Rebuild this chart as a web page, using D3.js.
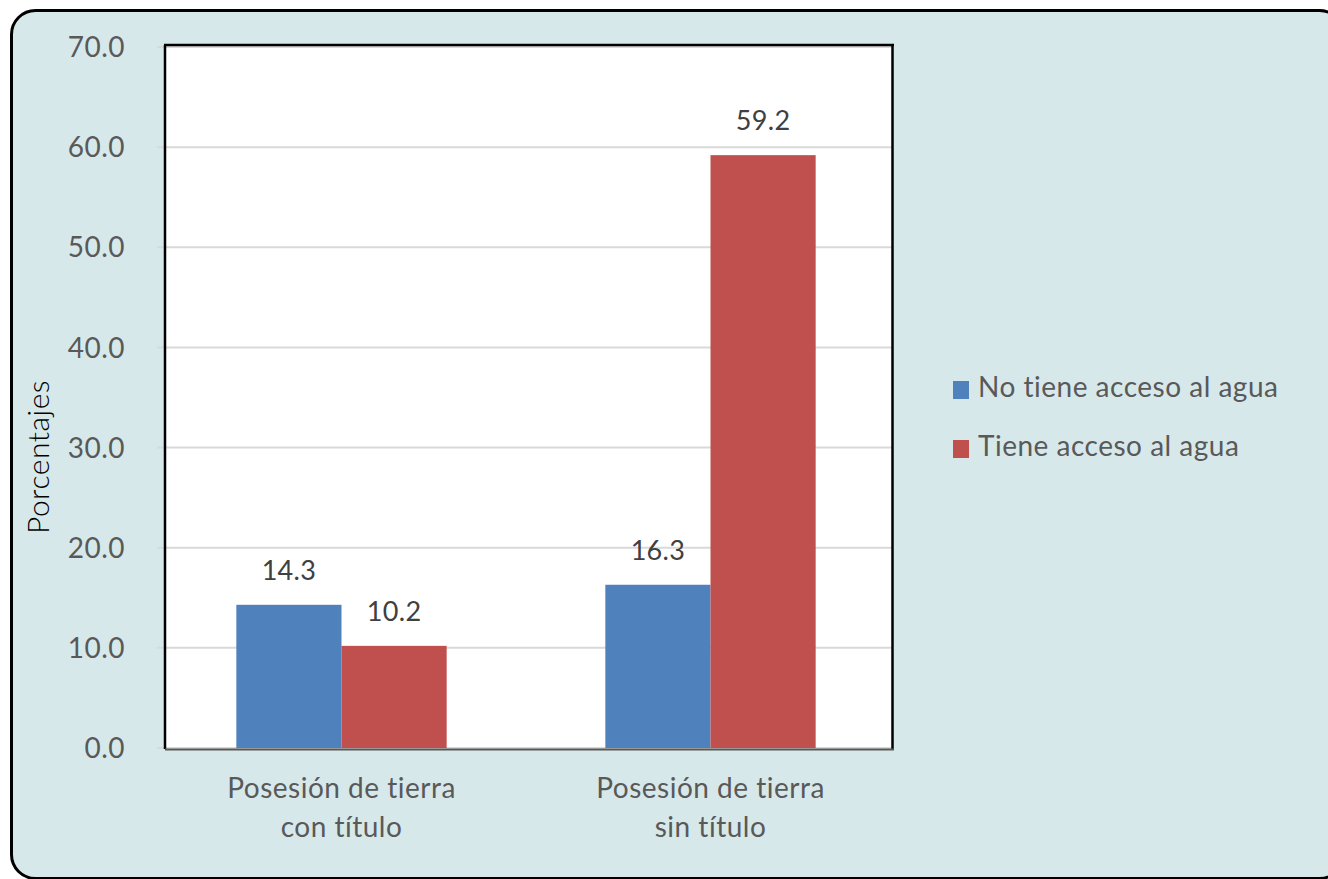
<!DOCTYPE html>
<html>
<head>
<meta charset="utf-8">
<script src="https://cdn.jsdelivr.net/npm/d3@7"></script>
<style>
  html, body { margin: 0; padding: 0; background: #ffffff; }
  svg { display: block; }
  text { font-family: Lato, "Open Sans", sans-serif; }
</style>
</head>
<body>
<svg id="chart" width="1328" height="879"></svg>
<script>
const categories = [["Posesión de tierra", "con título"], ["Posesión de tierra", "sin título"]];
const seriesNames = ["No tiene acceso al agua", "Tiene acceso al agua"];
const noAcceso = [14.3, 16.3];
const conAcceso = [10.2, 59.2];
const yTicks = [0, 10, 20, 30, 40, 50, 60, 70];
const colors = ["#4f81bd", "#c0504d"];

const svg = d3.select("#chart");

// outer rounded panel
svg.append("rect")
  .attr("x", 11.5).attr("y", 10.5)
  .attr("width", 1332).attr("height", 868)
  .attr("rx", 24).attr("ry", 24)
  .attr("fill", "#d7e8eb")
  .attr("stroke", "#000").attr("stroke-width", 3);

const plot = { left: 165, right: 892, top: 46, bottom: 748 };

// plot area background
svg.append("rect")
  .attr("x", plot.left).attr("y", plot.top)
  .attr("width", plot.right - plot.left).attr("height", plot.bottom - plot.top)
  .attr("fill", "#ffffff");

const y = d3.scaleLinear().domain([0, 70]).range([748, 47]);
const catKeys = categories.map(c => c.join(" "));
const x0 = d3.scaleBand().domain(catKeys).range([157, 895]).paddingInner(0.43).paddingOuter(0.215);
const x1 = d3.scaleBand().domain(seriesNames).range([0, x0.bandwidth()]);

// gridlines (with small tick stubs to the left)
svg.append("g").selectAll("line").data(yTicks).join("line")
  .attr("x1", 157).attr("x2", plot.right)
  .attr("y1", d => y(d)).attr("y2", d => y(d))
  .attr("stroke", "#d9d9d9").attr("stroke-width", 2);

// y tick labels
svg.append("g").selectAll("text").data(yTicks).join("text")
  .attr("x", 125).attr("y", d => y(d))
  .attr("dy", "0.36em")
  .attr("text-anchor", "end")
  .attr("font-size", 28)
  .attr("letter-spacing", 0.5)
  .attr("fill", "#595959")
  .text(d => d.toFixed(1));

// bars
const data = categories.map((c, i) => ({ key: catKeys[i], vals: [noAcceso[i], conAcceso[i]] }));
const groups = svg.append("g").selectAll("g").data(data).join("g")
  .attr("transform", d => `translate(${x0(d.key)},0)`);

groups.selectAll("rect").data(d => d.vals.map((v, j) => ({ v, s: seriesNames[j], j })))
  .join("rect")
  .attr("x", d => x1(d.s)).attr("width", x1.bandwidth())
  .attr("y", d => y(d.v)).attr("height", d => y(0) - y(d.v))
  .attr("fill", d => colors[d.j]);

groups.selectAll("text.lbl").data(d => d.vals.map((v, j) => ({ v, s: seriesNames[j], j })))
  .join("text").attr("class", "lbl")
  .attr("x", d => x1(d.s) + x1.bandwidth() / 2)
  .attr("y", d => y(d.v) - 25)
  .attr("text-anchor", "middle")
  .attr("font-size", 27)
  .attr("letter-spacing", 0.3)
  .attr("fill", "#404040")
  .text(d => d.v.toFixed(1));

// frame lines
svg.append("line").attr("x1", 165).attr("x2", 165).attr("y1", 45).attr("y2", 749)
  .attr("stroke", "#000").attr("stroke-width", 2.5);
svg.append("line").attr("x1", 164).attr("x2", 894).attr("y1", 45).attr("y2", 45)
  .attr("stroke", "#000").attr("stroke-width", 2.5);
svg.append("line").attr("x1", 892.5).attr("x2", 892.5).attr("y1", 45).attr("y2", 749)
  .attr("stroke", "#000").attr("stroke-width", 2.5);
svg.append("line").attr("x1", 165).attr("x2", 894).attr("y1", 749.5).attr("y2", 749.5)
  .attr("stroke", "#595959").attr("stroke-width", 2);

// category labels
const catG = svg.append("g").selectAll("text").data(data).join("text")
  .attr("x", d => x0(d.key) + x0.bandwidth() / 2)
  .attr("y", 798)
  .attr("text-anchor", "middle")
  .attr("font-size", 28)
  .attr("letter-spacing", 0.5)
  .attr("fill", "#595959");
catG.each(function(d, i) {
  const t = d3.select(this);
  categories[i].forEach((line, k) => {
    t.append("tspan")
      .attr("x", x0(d.key) + x0.bandwidth() / 2)
      .attr("dy", k === 0 ? 0 : 39)
      .text(line);
  });
});

// y axis title
svg.append("text")
  .attr("transform", "translate(49,457) rotate(-90)")
  .attr("text-anchor", "middle")
  .attr("font-size", 30)
  .attr("font-weight", 300)
  .attr("letter-spacing", 0.5)
  .attr("fill", "#000")
  .text("Porcentajes");

// legend
const leg = svg.append("g").selectAll("g").data(seriesNames).join("g")
  .attr("transform", (d, i) => `translate(953,${381 + i * 59})`);
leg.append("rect").attr("width", 16).attr("height", 18).attr("fill", (d, i) => colors[i]);
leg.append("text").attr("x", 25).attr("y", 16)
  .attr("font-size", 28).attr("letter-spacing", 0.5).attr("fill", "#595959")
  .text(d => d);
</script>
</body>
</html>
